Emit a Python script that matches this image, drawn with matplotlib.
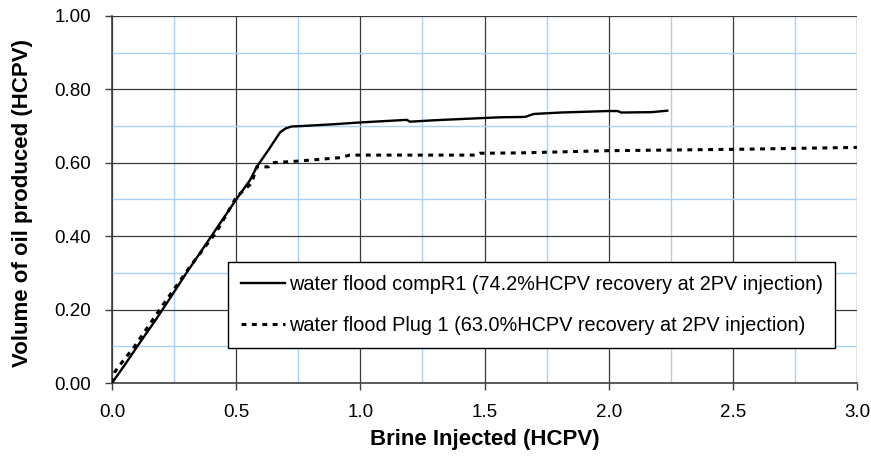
import matplotlib
matplotlib.use("Agg")
import matplotlib.pyplot as plt
from matplotlib.ticker import MultipleLocator, FormatStrFormatter

plt.rcParams['font.family'] = ['Liberation Sans', 'DejaVu Sans']

# water flood compR1 (solid)
comp_x = [0.0, 0.05, 0.10, 0.18, 0.22, 0.30, 0.40, 0.50, 0.556, 0.583, 0.63, 0.677,
          0.70, 0.724, 0.76, 0.891, 1.0, 1.187, 1.20, 1.30, 1.495, 1.563, 1.663,
          1.698, 1.807, 1.996, 2.037, 2.05, 2.173, 2.236]
comp_y = [0.0, 0.048, 0.098, 0.176, 0.217, 0.300, 0.400, 0.500, 0.553, 0.589, 0.635, 0.683,
          0.694, 0.699, 0.700, 0.705, 0.710, 0.717, 0.712, 0.716, 0.722, 0.724, 0.725,
          0.733, 0.737, 0.741, 0.741, 0.737, 0.738, 0.742]

# water flood Plug 1 (dotted)
plug_x = [0.0, 0.012, 0.052, 0.086, 0.20, 0.314, 0.421, 0.502, 0.562, 0.583, 0.63,
          0.643, 0.757, 0.918, 0.958, 1.20, 1.469, 1.481, 1.643, 2.0, 2.54, 3.0]
plug_y = [0.0, 0.031, 0.067, 0.095, 0.208, 0.317, 0.412, 0.508, 0.544, 0.589, 0.589,
          0.600, 0.605, 0.614, 0.621, 0.621, 0.621, 0.626, 0.627, 0.633, 0.637, 0.642]

labels = ["water flood compR1 (74.2%HCPV recovery at 2PV injection)",
          "water flood Plug 1 (63.0%HCPV recovery at 2PV injection)"]

fig = plt.figure(figsize=(8.71, 4.57), dpi=100)
ax = fig.add_axes([112/871, 1-383/457, (857-112)/871, (383-16)/457])

ax.plot(comp_x, comp_y, color='black', lw=1.7, label=labels[0], zorder=3)
ax.plot(plug_x, plug_y, color='black', lw=2.2, linestyle=(0, (1.6, 1.8)),
        label=labels[1], zorder=3)

ax.set_xlim(0, 3.0)
ax.set_ylim(0, 1.0)
ax.xaxis.set_major_locator(MultipleLocator(0.5))
ax.xaxis.set_minor_locator(MultipleLocator(0.25))
ax.yaxis.set_major_locator(MultipleLocator(0.2))
ax.yaxis.set_minor_locator(MultipleLocator(0.1))
ax.xaxis.set_major_formatter(FormatStrFormatter('%.1f'))
ax.yaxis.set_major_formatter(FormatStrFormatter('%.2f'))

ax.grid(which='minor', color='#a8d0f8', lw=1.0, zorder=0)
ax.grid(which='major', color='#3a3a3a', lw=0.9, zorder=1)
ax.set_axisbelow(True)

for s in ['top', 'right']:
    ax.spines[s].set_visible(False)
for s in ['left', 'bottom']:
    ax.spines[s].set_color('#404040')
    ax.spines[s].set_linewidth(1.2)

ax.tick_params(which='major', direction='out', length=5, width=1, color='#404040',
               labelsize=13.5, pad=10)
ax.tick_params(which='minor', length=0)

ax.set_xlabel("Brine Injected (HCPV)", fontsize=16, fontweight='bold')
ax.set_ylabel("Volume of oil produced (HCPV)", fontsize=16, fontweight='bold')
ax.xaxis.label.set_va('center')
ax.yaxis.label.set_va('center')
ax.xaxis.set_label_coords(0.501, (383-439)/367)
ax.yaxis.set_label_coords((23-112)/745, 0.49)

leg = ax.legend(loc='upper left', bbox_to_anchor=((228-112)/745, (383-262)/367),
                frameon=True, fancybox=False, edgecolor='black', framealpha=1,
                fontsize=14.3, handlelength=2.2, handletextpad=0.2,
                labelspacing=1.1, borderpad=0.65, borderaxespad=0)
leg.get_frame().set_linewidth(1.0)

fig.savefig("out.png", dpi=100)
